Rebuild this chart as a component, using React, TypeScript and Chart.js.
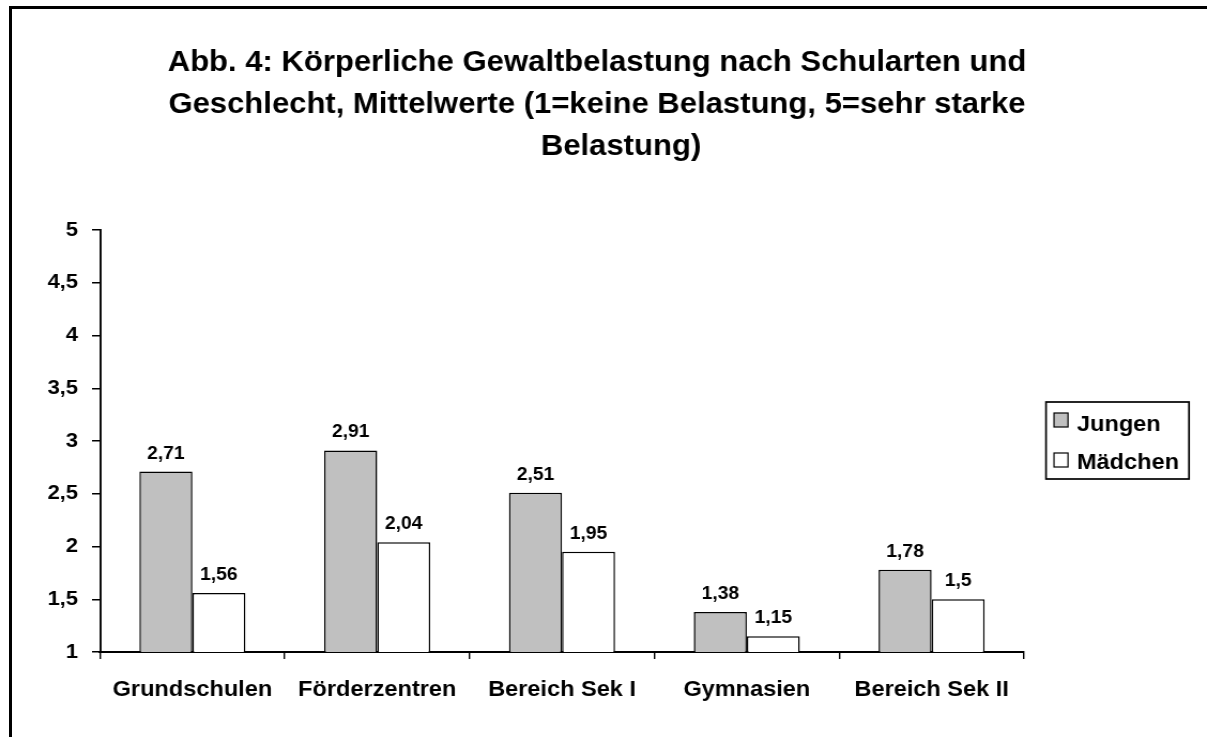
import React, { useEffect, useRef } from "react";
import { Chart, registerables } from "chart.js";

Chart.register(...registerables);

// ---- data ----
const categories = ["Grundschulen", "Förderzentren", "Bereich Sek I", "Gymnasien", "Bereich Sek II"];
const jungen = [2.71, 2.91, 2.51, 1.38, 1.78];
const maedchen = [1.56, 2.04, 1.95, 1.15, 1.5];
const seriesLabels = ["Jungen", "Mädchen"];
const seriesColors = ["#C0C0C0", "#FFFFFF"];
const titleLines = [
  "Abb. 4: Körperliche Gewaltbelastung nach Schularten und",
  "Geschlecht, Mittelwerte (1=keine Belastung, 5=sehr starke",
  "Belastung)",
];
const yMin = 1;
const yMax = 5;
const yStep = 0.5;

// ---- layout: screen px converted to internal canvas px (canvas stretched horizontally) ----
const SX = 1.07;
const SW = 1207;
const H = 737;
const W = Math.round(SW / SX);
const ix = (screenX: number) => screenX / SX;
const FONT = '"Liberation Sans", Arial, Helvetica, sans-serif';
const fmt = (v: number) => String(v).replace(".", ",");
const titleOffsets = [0, 0, 24];

const titlePlugin = {
  id: "customTitle",
  afterDraw(chart: any) {
    const ctx = chart.ctx;
    ctx.save();
    ctx.font = `bold 29px ${FONT}`;
    ctx.fillStyle = "#000";
    ctx.textAlign = "center";
    ctx.textBaseline = "alphabetic";
    titleLines.forEach((l, i) => ctx.fillText(l, ix(597 + titleOffsets[i]), 71 + i * 42));
    ctx.restore();
  },
};

const valueLabelPlugin = {
  id: "valueLabels",
  afterDatasetsDraw(chart: any) {
    const ctx = chart.ctx;
    ctx.save();
    ctx.font = `bold 18px ${FONT}`;
    ctx.fillStyle = "#000";
    ctx.textAlign = "center";
    ctx.textBaseline = "alphabetic";
    chart.data.datasets.forEach((ds: any, di: number) => {
      const meta = chart.getDatasetMeta(di);
      meta.data.forEach((el: any, i: number) => {
        ctx.fillText(fmt(ds.data[i]), el.x, el.y - 13);
      });
    });
    ctx.restore();
  },
};

const legendPlugin = {
  id: "boxLegend",
  afterDraw(chart: any) {
    const ctx = chart.ctx;
    const bx = ix(1046);
    const by = 402;
    const bw = ix(1189) - ix(1046);
    const bh = 77;
    ctx.save();
    ctx.fillStyle = "#fff";
    ctx.fillRect(bx, by, bw, bh);
    ctx.strokeStyle = "#000";
    ctx.lineWidth = 1.7;
    ctx.strokeRect(bx, by, bw, bh);
    ctx.font = `bold 22px ${FONT}`;
    ctx.textAlign = "left";
    ctx.textBaseline = "alphabetic";
    chart.data.datasets.forEach((ds: any, i: number) => {
      const my = 413 + i * 40;
      ctx.fillStyle = ds.backgroundColor;
      ctx.fillRect(ix(1054), my, ix(1068) - ix(1054), 14);
      ctx.lineWidth = 1.2;
      ctx.strokeStyle = "#000";
      ctx.strokeRect(ix(1054), my, ix(1068) - ix(1054), 14);
      ctx.fillStyle = "#000";
      ctx.fillText(ds.label, ix(1077), 431 + i * 38);
    });
    ctx.restore();
  },
};

export default function App() {
  const ref = useRef<HTMLCanvasElement | null>(null);

  useEffect(() => {
    if (!ref.current) return;
    const chart = new Chart(ref.current, {
      type: "bar",
      data: {
        labels: categories,
        datasets: [
          {
            label: seriesLabels[0],
            data: jungen,
            backgroundColor: seriesColors[0],
            borderColor: "#000",
            borderWidth: 1.5,
          },
          {
            label: seriesLabels[1],
            data: maedchen,
            backgroundColor: seriesColors[1],
            borderColor: "#000",
            borderWidth: 1.5,
          },
        ],
      },
      options: {
        animation: false,
        responsive: true,
        maintainAspectRatio: false,
        devicePixelRatio: 1,
        layout: { padding: { top: 230, left: 0, right: W - ix(1024), bottom: 35 } },
        datasets: { bar: { categoryPercentage: 0.574, barPercentage: 1 } },
        plugins: {
          legend: { display: false },
          title: { display: false },
          tooltip: { enabled: false },
        },
        scales: {
          x: {
            type: "category",
            offset: true,
            grid: {
              offset: true,
              drawOnChartArea: false,
              drawTicks: true,
              tickLength: 7,
              color: "#000",
              lineWidth: 1.4,
            },
            border: { display: true, color: "#000", width: 2 },
            ticks: {
              color: "#000",
              padding: 18,
              maxRotation: 0,
              autoSkip: false,
              font: { family: FONT, size: 22, weight: "bold" },
            },
            afterFit: (s: any) => {
              s.height = 50;
            },
          },
          y: {
            type: "linear",
            min: yMin,
            max: yMax,
            grid: {
              drawOnChartArea: false,
              drawTicks: true,
              tickLength: ix(8),
              color: "#000",
              lineWidth: 1.5,
            },
            border: { display: true, color: "#000", width: 1.9 },
            ticks: {
              stepSize: yStep,
              color: "#000",
              padding: ix(14),
              font: { family: FONT, size: 20.5, weight: "bold" },
              callback: (v: any) => fmt(Number(v)),
            },
            afterFit: (s: any) => {
              s.width = ix(100);
            },
          },
        },
      } as any,
      plugins: [titlePlugin, valueLabelPlugin, legendPlugin],
    });
    return () => chart.destroy();
  }, []);

  return (
    <div
      style={{
        position: "fixed",
        left: 0,
        top: 0,
        width: SW,
        height: H,
        overflow: "hidden",
        background: "#fff",
      }}
    >
      <div
        style={{
          position: "absolute",
          left: 9,
          top: 6,
          width: 1300,
          height: 800,
          border: "3px solid #000",
          boxSizing: "border-box",
        }}
      />
      <div
        style={{
          position: "absolute",
          left: 0,
          top: 0,
          width: W,
          height: H,
          transform: `scaleX(${SX})`,
          transformOrigin: "0 0",
        }}
      >
        <canvas ref={ref} />
      </div>
    </div>
  );
}
